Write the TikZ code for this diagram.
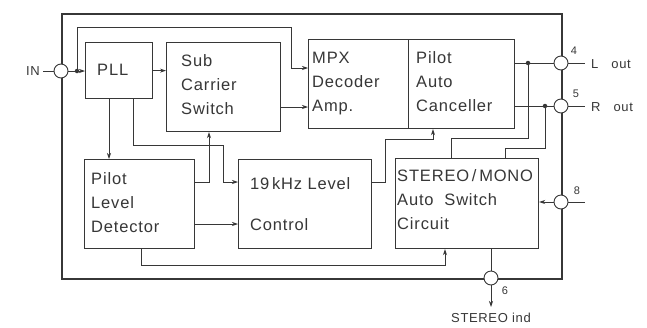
\documentclass[tikz,border=0pt]{standalone}
\usepackage{fontspec}
\setmainfont{Liberation Sans}[LetterSpace=5]
\usetikzlibrary{arrows.meta,calc}
\definecolor{ink}{RGB}{55,55,55}
\begin{document}
\begin{tikzpicture}[x=1pt,y=-1pt,
  frame/.style={draw=ink, line width=1.8pt, minimum width=500pt, minimum height=265pt, anchor=north west, inner sep=0pt},
  blk/.style={draw=ink, line width=1.2pt, anchor=north west, inner sep=0pt},
  wire/.style={draw=ink, line width=0.7pt},
  arr/.style={-{Stealth[length=6pt,width=4pt]}},
  pin/.style={circle, draw=ink, fill=white, line width=0.9pt, minimum size=14pt, inner sep=0pt},
  dot/.style={circle, fill=ink, minimum size=4.5pt, inner sep=0pt},
  txt/.style={text=ink, font=\fontsize{16.5}{24}\selectfont, align=left, anchor=west, inner sep=0pt},
  small/.style={text=ink, font=\fontsize{13}{15}\selectfont, inner sep=0pt},
  tiny/.style={text=ink, font=\fontsize{11}{13}\selectfont, inner sep=0pt}]
\useasboundingbox (0,0) rectangle (647,327);
\fill[white] (0,0) rectangle (647,327);

% outer frame
\node[frame] (ic) at (61,13) {};

% blocks
\node[blk, minimum width=67pt, minimum height=56pt] (pll) at (85,42) {};
\node[blk, minimum width=114pt, minimum height=89pt] (scs) at (166,42) {};
\node[blk, minimum width=100pt, minimum height=89pt] (mpx) at (308,39) {};
\node[blk, minimum width=106pt, minimum height=89pt] (pac) at (408,39) {};
\node[blk, minimum width=110pt, minimum height=89pt] (pld) at (84,159) {};
\node[blk, minimum width=133pt, minimum height=89pt] (lvl) at (238,159) {};
\node[blk, minimum width=143pt, minimum height=90pt] (sm) at (395,158) {};

% block texts
\node[txt] (tpll) at (97,70) {PLL};
\node[txt] (tscs) at (181,85) {Sub\\Carrier\\Switch};
\node[txt] (tmpx) at (312,84) {MPX\\Decoder\\Amp.};
\node[txt] (tpac) at (416,82) {Pilot\\Auto\\Canceller};
\node[txt] (tpld) at (91,203) {Pilot\\Level\\Detector};
\node[txt] (tlvl) at (250,204) {19\,kHz Level\\[17pt]Control};
\node[txt] (tsm) at (397,200) {STEREO\,/\,MONO\\Auto\ \ Switch\\Circuit};

% pins
\node[pin] (pin_in) at (61,71) {};
\node[pin] (pin4) at (561,63) {};
\node[pin] (pin5) at (561,106) {};
\node[pin] (pin8) at (561,202) {};
\node[pin] (pin6) at (491,278) {};

% dots
\node[dot] (d1) at (77,71) {};
\node[dot] (d4) at (528,63) {};
\node[dot] (d5) at (545,106) {};

% helper coordinates
\coordinate (oin) at (43,71);
\coordinate (a1) at (291,68);
\coordinate (a2) at (280,107);
\coordinate (a3) at (109,100);
\coordinate (a4) at (133,145);
\coordinate (a5) at (223,182);
\coordinate (a6) at (209,182);
\coordinate (a7) at (200,224);
\coordinate (a8) at (385,139);
\coordinate (a9) at (433,139);
\coordinate (a10) at (451,138);
\coordinate (a11) at (505,148);
\coordinate (a12) at (141,265);
\coordinate (a13) at (445,265);
\coordinate (o4) at (585,63);
\coordinate (o5) at (585,106);
\coordinate (o8) at (585,202);
\coordinate (o6) at (491,307);

% input
\draw[wire] (oin) -- (pin_in);
\draw[wire,arr] (pin_in) -- (pll.west |- pin_in);
\draw[wire,arr] (d1) -- (77,27) -- (291,27) -- (a1) -- (a1 -| mpx.west);

% top row
\draw[wire,arr] (pll.east) -- (scs.west |- pll.east);
\draw[wire,arr] (a2 -| scs.east) -- (a2 -| mpx.west);

% PLL to lower blocks
\draw[wire,arr] (a3 |- pll.south) -- (a3 |- pld.north);
\draw[wire,arr] (a4 |- pll.south) -- (a4) -| (a5) -- (a5 -| lvl.west);

% pilot level detector
\draw[wire,arr] (a6 -| pld.east) -- (a6) -- (a6 |- scs.south);
\draw[wire,arr] (a7 -| pld.east) -- (a7 -| lvl.west);
\draw[wire,arr] (a12 |- pld.south) -- (a12) -- (a13) -- (a13 |- sm.south);

% 19 kHz level control to canceller
\draw[wire,arr] (lvl.east |- a6) -| (a8) -- (a9) -- (a9 |- pac.south);

% outputs
\draw[wire] (d4 -| pac.east) -- (pin4);
\draw[wire] (d5 -| pac.east) -- (pin5);
\draw[wire] (pin4) -- (o4);
\draw[wire] (pin5) -- (o5);
\draw[wire] (d4) |- (a10) -- (a10 |- sm.north);
\draw[wire] (d5) |- (a11) -- (a11 |- sm.north);

% stereo / mono
\draw[wire,arr] (pin8) -- (sm.east |- pin8);
\draw[wire] (pin8) -- (o8);
\draw[wire] (pin6 |- sm.south) -- (pin6);
\draw[wire,arr] (pin6) -- (o6);

% labels
\node[small] (lin) at (33,71) {IN};
\node[tiny] (l4) at (574,51) {4};
\node[small, anchor=west] (lout) at (591,64) {L\quad out};
\node[tiny] (l5) at (576,94) {5};
\node[small, anchor=west] (rout) at (591,107) {R\quad out};
\node[tiny] (l8) at (577,191) {8};
\node[tiny] (l6) at (505,291) {6};
\node[small] (lst) at (491,318) {STEREO ind};
\end{tikzpicture}
\end{document}
